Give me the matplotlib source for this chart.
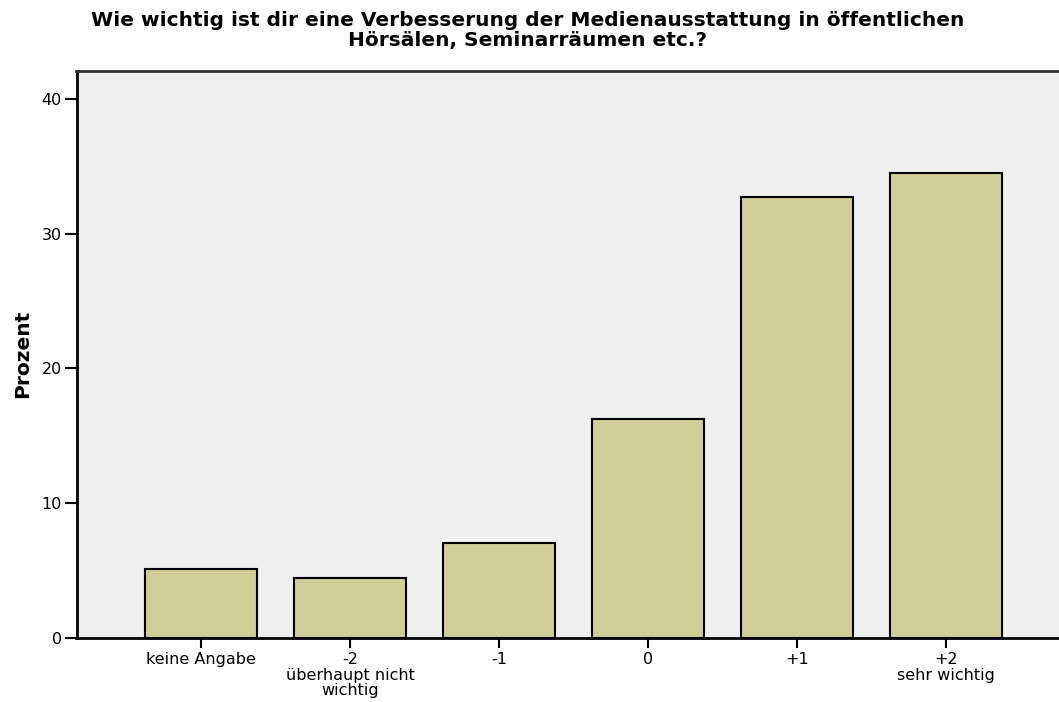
import matplotlib
matplotlib.use("Agg")
import matplotlib.pyplot as plt

categories = ["keine Angabe", "-2\nüberhaupt nicht\nwichtig", "-1", "0", "+1", "+2\nsehr wichtig"]
values = [5.10, 4.41, 7.05, 16.26, 32.69, 34.48]
yticks = [0, 10, 20, 30, 40]
title = "Wie wichtig ist dir eine Verbesserung der Medienausstattung in öffentlichen\nHörsälen, Seminarräumen etc.?"
ylabel = "Prozent"

plt.rcParams['font.family'] = ['DejaVu Sans']

W, H = 1059, 702
fig = plt.figure(figsize=(W / 100, H / 100), dpi=100)
left, right, top, bottom = 76.5, 1071, 71, 637.7
ax = fig.add_axes([left / W, 1 - bottom / H, (right - left) / W, (bottom - top) / H])
ax.set_facecolor("#EFEFEF")

x = list(range(len(categories)))
ax.bar(x, values, width=0.75, color="#D2CE98", edgecolor="black", linewidth=1.5, zorder=3)

ax.set_xlim(-0.836, 5.836)
ax.set_ylim(0, 42.07)
ax.set_yticks(yticks)
ax.set_xticks(x)
ax.set_xticklabels(categories, fontsize=11.5, linespacing=1.02)
ax.tick_params(axis='y', length=9, width=1.5, labelsize=11.5, pad=1.5)
ax.tick_params(axis='x', length=7.5, width=1.5, labelsize=11.5, pad=3)

for s in ["left", "bottom"]:
    ax.spines[s].set_linewidth(2)
    ax.spines[s].set_color("black")
ax.spines["top"].set_linewidth(2)
ax.spines["top"].set_color("#333333")
ax.spines["right"].set_visible(False)

ax.set_ylabel(ylabel, fontsize=14.5, fontweight="bold")
ax.yaxis.set_label_coords((32 - left) / (right - left), 0.5)
fig.text(528 / W, 1 - 11 / H, title, ha="center", va="top", fontsize=14.5,
         fontweight="bold", linespacing=1.05)

fig.savefig("out.png", dpi=100)
